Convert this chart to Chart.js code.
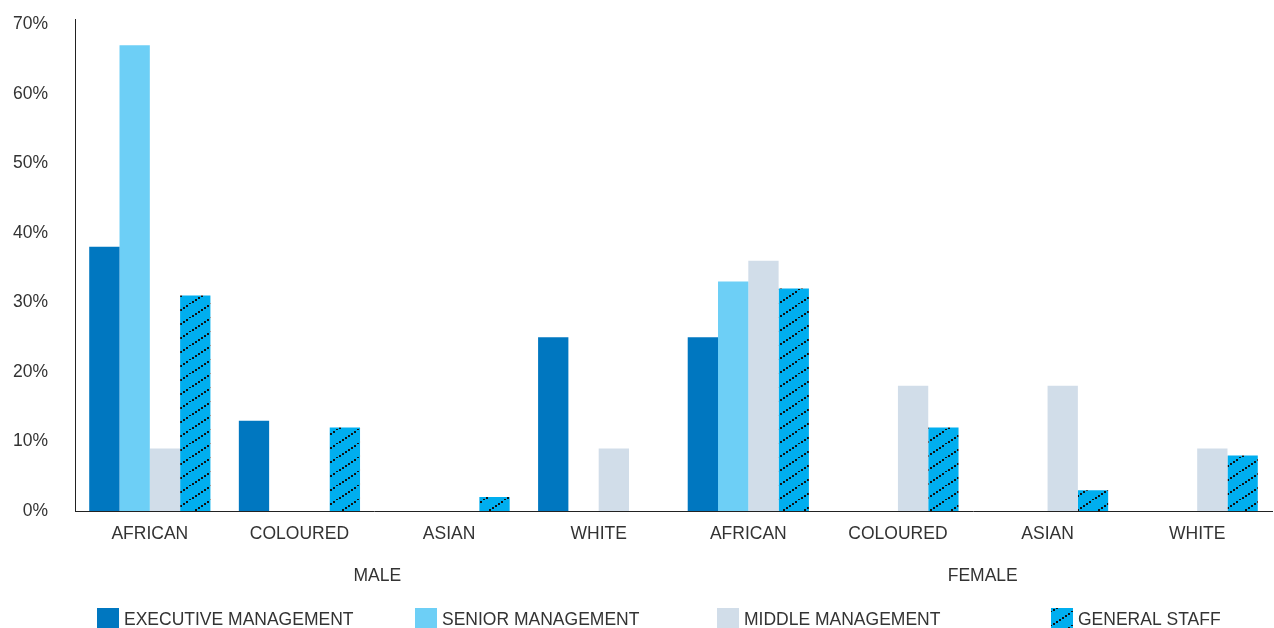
<!DOCTYPE html>
<html>
<head>
<meta charset="utf-8">
<script src="https://cdn.jsdelivr.net/npm/chart.js@4/dist/chart.umd.min.js"></script>
<style>
  html, body { margin: 0; padding: 0; background: #fff; overflow: hidden; }
  #wrap { width: 1274px; height: 646px; position: absolute; left: 0; top: -18px; }
</style>
</head>
<body>
<div id="wrap"><canvas id="chart"></canvas></div>
<script>
// Workforce profile by race and gender (% of each level)
const categories = ['AFRICAN', 'COLOURED', 'ASIAN', 'WHITE', 'AFRICAN', 'COLOURED', 'ASIAN', 'WHITE'];
const groups = ['MALE', 'FEMALE'];
const executiveMgmt = [38, 13, 0, 25, 25, 0, 0, 0];
const seniorMgmt    = [67, 0, 0, 0, 33, 0, 0, 0];
const middleMgmt    = [9, 0, 0, 9, 36, 18, 18, 9];
const generalStaff  = [31, 12, 2, 0, 32, 12, 3, 8];
const yTicks = [0, 10, 20, 30, 40, 50, 60, 70];

const FONT = '"Liberation Sans", Arial, sans-serif';
const TEXT = '#333333';

// dotted diagonal hatch on blue
function hatchPattern() {
  const c = document.createElement('canvas');
  c.width = 21; c.height = 14;
  const g = c.getContext('2d');
  g.fillStyle = '#00aeef';
  g.fillRect(0, 0, 21, 14);
  g.fillStyle = '#111';
  for (let i = 0; i < 7; i++) {
    g.fillRect(i * 3, 13 - i * 2, 2, 2);
  }
  return g.createPattern(c, 'repeat');
}
const hatch = hatchPattern();

const series = [
  { label: 'EXECUTIVE MANAGEMENT', data: executiveMgmt, color: '#0077c0' },
  { label: 'SENIOR MANAGEMENT', data: seniorMgmt, color: '#6dcff6' },
  { label: 'MIDDLE MANAGEMENT', data: middleMgmt, color: '#d1dde9' },
  { label: 'GENERAL STAFF', data: generalStaff, color: hatch }
];
const legendX = [97, 415, 717, 1051];

// group labels and legend sit below the x axis, measured from its line
const extrasPlugin = {
  id: 'extras',
  afterDraw(chart) {
    const ctx = chart.ctx;
    const x = chart.scales.x;
    const base = chart.chartArea.bottom;
    ctx.save();
    ctx.font = '17.5px ' + FONT;
    ctx.fillStyle = TEXT;
    ctx.textAlign = 'center';
    ctx.textBaseline = 'middle';
    groups.forEach((g, i) => {
      const a = x.getPixelForValue(i * 4 + 1);
      const b = x.getPixelForValue(i * 4 + 2);
      ctx.fillText(g, (a + b) / 2 + 3 + i * 7, base + 65);
    });
    ctx.textAlign = 'left';
    series.forEach((s, i) => {
      ctx.fillStyle = s.color;
      ctx.fillRect(legendX[i], base + 97, 22, 21);
      ctx.fillStyle = TEXT;
      ctx.fillText(s.label, legendX[i] + 27, base + 109);
    });
    ctx.restore();
  }
};

new Chart(document.getElementById('chart'), {
  type: 'bar',
  data: {
    labels: categories,
    datasets: series.map(s => ({
      label: s.label,
      data: s.data,
      backgroundColor: s.color,
      borderWidth: 0,
      categoryPercentage: 0.81,
      barPercentage: 1.0
    }))
  },
  options: {
    responsive: true,
    maintainAspectRatio: false,
    animation: false,
    layout: { padding: { left: 8, right: 2, top: 0, bottom: 70 } },
    plugins: {
      legend: { display: false },
      tooltip: { enabled: false }
    },
    scales: {
      x: {
        grid: { display: false, drawTicks: false },
        border: { display: true, color: '#222', width: 1 },
        ticks: { color: TEXT, font: { family: FONT, size: 17.5 }, padding: 13, maxRotation: 0 }
      },
      y: {
        min: 0,
        max: 70.7,
        grid: { display: false, drawTicks: false },
        border: { display: true, color: '#222', width: 1 },
        afterBuildTicks(axis) {
          axis.ticks = yTicks.map(v => ({ value: v }));
        },
        afterFit(axis) {
          axis.width = 67;
        },
        ticks: {
          color: TEXT,
          font: { family: FONT, size: 17.5 },
          padding: 27,
          callback: v => v + '%'
        }
      }
    }
  },
  plugins: [extrasPlugin]
});
</script>
</body>
</html>
